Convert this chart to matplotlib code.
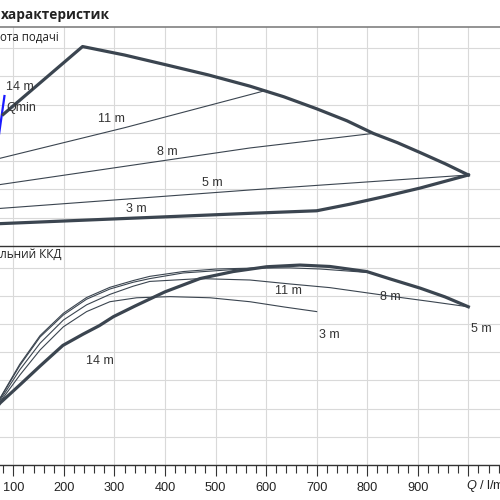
import matplotlib
matplotlib.use("Agg")
import matplotlib.pyplot as plt
from matplotlib.ticker import MultipleLocator, FixedLocator

plt.rcParams["font.family"] = ["Liberation Sans", "DejaVu Sans"]
plt.rcParams["mathtext.fontset"] = "custom"
plt.rcParams["mathtext.it"] = "Liberation Sans:italic"

# upper panel: head, Q in l/min, H in m
MAX_Q = [80, 237, 320, 403, 485, 568, 635, 700, 760, 812, 860, 905, 955, 1000]
MAX_H = [9.3, 14.1, 13.5, 12.8, 12.1, 11.3, 10.55, 9.7, 8.85, 7.96, 7.3, 6.6, 5.8, 5.02]
H11_Q = [60, 321, 600]
H11_H = [6.08, 8.37, 11.0]
H8_Q = [60, 568, 812]
H8_H = [4.27, 6.93, 7.96]
H5_Q = [60, 568, 1000]
H5_H = [2.62, 3.96, 5.02]
H3_Q = [60, 568, 700, 765, 832, 905, 1000]
H3_H = [1.56, 2.31, 2.49, 2.95, 3.48, 4.1, 5.02]
QMIN_Q = [71, 82.5]
QMIN_H = [7.7, 10.6]

# lower panel: efficiency in %
E14_Q = [65, 74, 113, 153, 198, 238, 270, 298, 341, 400, 469, 535, 601, 667, 726, 799, 845, 905, 954, 1000]
E14 = [20.0, 22.0, 28.4, 35.1, 42.4, 46.4, 49.4, 52.6, 56.4, 61.4, 66.1, 68.6, 70.3, 70.9, 70.4, 68.6, 66.0, 62.7, 59.6, 56.1]
E11_Q = [65, 74, 113, 153, 199, 245, 291, 337, 370, 436, 502, 568, 601]
E11 = [21.0, 23.6, 35.3, 45.4, 53.2, 58.8, 62.4, 64.8, 66.1, 68.1, 68.9, 69.7, 70.1]
E8_Q = [65, 74, 113, 153, 199, 245, 291, 337, 370, 436, 502, 568, 647, 707, 799]
E8 = [21.2, 23.8, 35.8, 45.9, 53.8, 59.4, 63.0, 65.4, 66.9, 68.6, 69.5, 69.8, 69.9, 69.5, 68.3]
E5_Q = [65, 74, 113, 153, 199, 245, 291, 337, 370, 469, 568, 647, 726, 845, 924, 1000]
E5 = [20.6, 23.0, 33.8, 43.2, 51.4, 56.8, 60.5, 63.4, 65.1, 66.1, 65.6, 64.2, 62.9, 59.9, 58.0, 56.1]
E3_Q = [65, 74, 113, 153, 199, 245, 291, 344, 410, 489, 568, 637, 700]
E3 = [20.2, 22.4, 31.9, 40.8, 49.0, 54.4, 57.9, 59.3, 59.7, 59.3, 57.9, 56.0, 54.4]

TICKS = [100, 200, 300, 400, 500, 600, 700, 800, 900, 1000]
TICK_LABELS = ["100", "200", "300", "400", "500", "600", "700", "800", "900", ""]

DARK = "#3b4550"
TEXT = "#333333"
GRID = "#d9d9d9"
THICK = 2.3
THIN = 0.8

fig = plt.figure(figsize=(5, 5), dpi=100)
ax_h = fig.add_axes([0, 0.508, 1, 0.4374])
ax_e = fig.add_axes([0, 0.07, 1, 0.438])

for ax in (ax_h, ax_e):
    ax.set_xlim(73.7, 1062.6)
    ax.xaxis.set_major_locator(FixedLocator(TICKS + [1100]))
    ax.grid(True, color=GRID, linewidth=0.8)
    ax.set_axisbelow(True)
    ax.spines["left"].set_visible(False)
    ax.spines["right"].set_visible(False)
    ax.tick_params(axis="y", left=False, labelleft=False)

ax_h.set_ylim(0, 15.46)
ax_h.yaxis.set_major_locator(FixedLocator([2, 4, 6, 8, 10, 12, 14]))
ax_h.spines["bottom"].set_visible(False)
ax_h.spines["top"].set_color("#808080")
ax_h.spines["top"].set_linewidth(1.2)
ax_h.tick_params(axis="x", bottom=False, labelbottom=False)

ax_h.plot(QMIN_Q, QMIN_H, color="#1a1aff", linewidth=1.6, zorder=2)
ax_h.plot(MAX_Q, MAX_H, color=DARK, linewidth=THICK, zorder=3, solid_joinstyle="round")
ax_h.plot(H11_Q, H11_H, color=DARK, linewidth=THIN)
ax_h.plot(H8_Q, H8_H, color=DARK, linewidth=THIN)
ax_h.plot(H5_Q, H5_H, color=DARK, linewidth=THIN)
ax_h.plot(H3_Q, H3_H, color=DARK, linewidth=THICK, solid_joinstyle="round")

label_kw = dict(fontsize=9, color=TEXT, ha="center", va="center")
ax_h.text(113, 11.26, "14 m", **label_kw)
ax_h.text(86, 9.75, "Qmin", fontsize=9, color=TEXT, ha="left", va="center")
ax_h.text(295, 8.97, "11 m", **label_kw)
ax_h.text(404, 6.64, "8 m", **label_kw)
ax_h.text(493, 4.45, "5 m", **label_kw)
ax_h.text(344, 2.61, "3 m", **label_kw)

ax_e.set_ylim(0, 77.66)
ax_e.yaxis.set_major_locator(MultipleLocator(10))
ax_e.spines["top"].set_color("#333333")
ax_e.spines["top"].set_linewidth(1.0)
ax_e.spines["bottom"].set_color("#333333")
ax_e.spines["bottom"].set_linewidth(1.0)
ax_e.set_xticks(TICKS)
ax_e.set_xticklabels(TICK_LABELS)
ax_e.xaxis.set_minor_locator(MultipleLocator(20))
ax_e.tick_params(axis="x", which="major", length=8, width=0.8, color="#333333",
                 labelsize=9.2, labelcolor="#222222", pad=4)
ax_e.tick_params(axis="x", which="minor", length=5.5, width=0.8, color="#333333")
ax_e.xaxis.grid(True, which="major", color=GRID, linewidth=0.8)

ax_e.plot(E11_Q, E11, color=DARK, linewidth=THIN)
ax_e.plot(E8_Q, E8, color=DARK, linewidth=THIN)
ax_e.plot(E5_Q, E5, color=DARK, linewidth=THIN)
ax_e.plot(E3_Q, E3, color=DARK, linewidth=THIN)
ax_e.plot(E14_Q, E14, color=DARK, linewidth=THICK, zorder=3, solid_joinstyle="round")

ax_e.text(272, 36.9, "14 m", **label_kw)
ax_e.text(644, 61.7, "11 m", **label_kw)
ax_e.text(845, 59.5, "8 m", **label_kw)
ax_e.text(726, 46.1, "3 m", **label_kw)
ax_e.text(1026, 48.1, "5 m", **label_kw)

ax_e.text(995, -7.27, r"$Q$ / l/min", fontsize=9.2, color="#222222",
          ha="left", va="center", clip_on=False)

fig.text(1 / 500, 1 - 15 / 500, "характеристик", fontsize=9.8, fontweight="bold",
         family=["Open Sans", "DejaVu Sans"], color="#222222", ha="left", va="center")
fig.text(0, 1 - 37 / 500, "ота подачі", fontsize=8.3,
         family=["Open Sans", "DejaVu Sans"], color="#222222", ha="left", va="center")
fig.text(0, 1 - 254 / 500, "льний ККД", fontsize=8.5,
         family=["Open Sans", "DejaVu Sans"], color="#222222", ha="left", va="center")

fig.savefig("out.png", dpi=100)
